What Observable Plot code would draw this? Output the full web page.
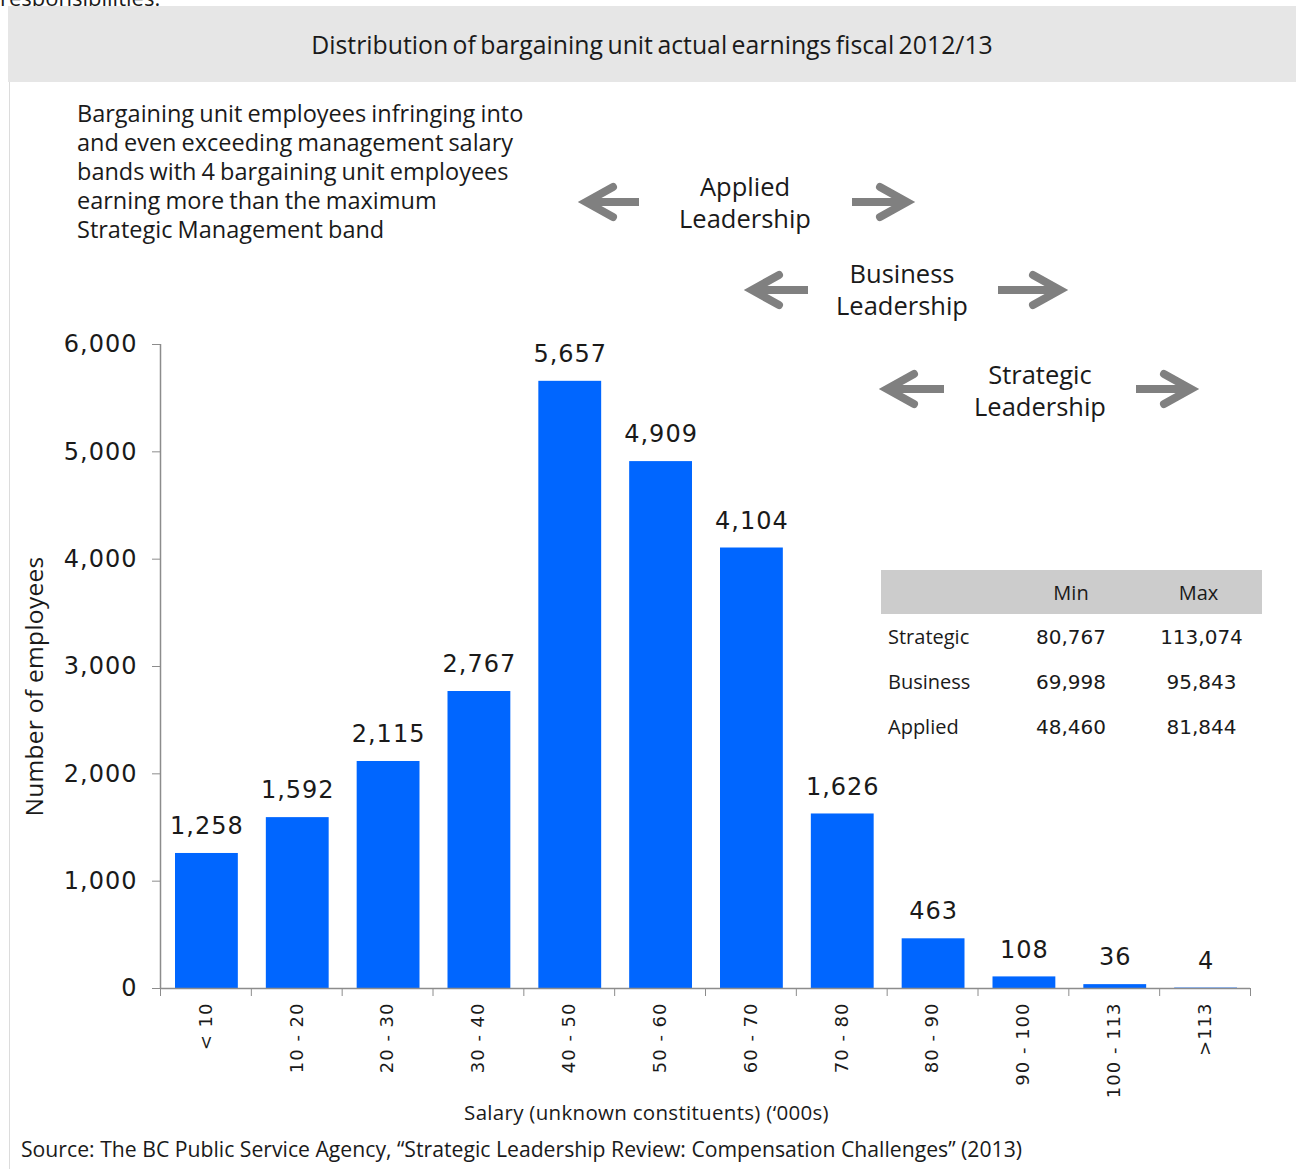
<!DOCTYPE html>
<html>
<head>
<meta charset="utf-8">
<script src="https://cdn.jsdelivr.net/npm/d3@7"></script>
<script src="https://cdn.jsdelivr.net/npm/@observablehq/plot@0.6"></script>
<style>
  html, body { margin: 0; padding: 0; background: #fff; }
  #page { position: relative; width: 1296px; height: 1169px; overflow: hidden; font-family: "Open Sans", sans-serif; color: #1a1a1a; }
  .abs { position: absolute; }
  #cut { top: -18px; left: 0; font-size: 22px; }
  #leftline { left: 9px; top: 6px; width: 1px; height: 1163px; background: #dcdcdc; }
  #header { left: 8px; top: 6px; width: 1288px; height: 76px; background: #e6e6e6; text-align: center; line-height: 76px; font-size: 24.8px; word-spacing: -2px; }
  #chart { left: 0; top: 82px; }
  #note { left: 77px; top: 99px; font-size: 23.5px; line-height: 29px; word-spacing: -1px; }
  .band { text-align: center; font-size: 25.5px; line-height: 32px; width: 200px; }
  #arrows { left: 0; top: 0; }
  #tbl { left: 881px; top: 570px; border-collapse: collapse; font-size: 20px; }
  #tbl th { background: #cccccc; height: 44px; font-weight: normal; padding: 0; }
  #tbl td { height: 45px; padding: 0; }
  #tbl .num { font-family: "DejaVu Sans", sans-serif; font-size: 20px; text-align: center; }
  #source { left: 21px; top: 1134px; font-size: 21.2px; }
</style>
</head>
<body>
<div id="page">
  <div id="cut" class="abs">responsibilities.</div>
  <div id="leftline" class="abs"></div>
  <div id="header" class="abs"></div>
  <div id="chart" class="abs"></div>
  <div id="note" class="abs"></div>
  <svg id="arrows" class="abs" width="1296" height="1169"></svg>
  <table id="tbl" class="abs"></table>
  <div id="source" class="abs"></div>
</div>
<script>
// ---- Data ----
const categories = ["< 10", "10 - 20", "20 - 30", "30 - 40", "40 - 50", "50 - 60", "60 - 70", "70 - 80", "80 - 90", "90 - 100", "100 - 113", ">113"];
const employees = [1258, 1592, 2115, 2767, 5657, 4909, 4104, 1626, 463, 108, 36, 4];
const yTicks = [0, 1000, 2000, 3000, 4000, 5000, 6000];

const titleText = "Distribution of bargaining unit actual earnings fiscal 2012/13";
const yLabel = "Number of employees";
const xLabel = "Salary (unknown constituents) (‘000s)";
const sourceText = "Source: The BC Public Service Agency, “Strategic Leadership Review: Compensation Challenges” (2013)";
const noteLines = ["Bargaining unit employees infringing into", "and even exceeding management salary", "bands with 4 bargaining unit employees", "earning more than the maximum", "Strategic Management band"];

const bandNames = ["Applied", "Business", "Strategic"];
const tableHeader = ["", "Min", "Max"];
const tableRows = ["Strategic", "Business", "Applied"];
const tableMin = [80767, 69998, 48460];
const tableMax = [113074, 95843, 81844];

// ---- Build ----
const fmt = d3.format(",");
const bars = categories.map((c, i) => ({cat: c, i, n: employees[i]}));

document.getElementById("header").textContent = titleText;
document.getElementById("source").textContent = sourceText;
document.getElementById("note").innerHTML = noteLines.join("<br>");

const barColor = "#0066ff";
const axisColor = "#8c8c8c";

const plot = Plot.plot({
  width: 1296,
  height: 1050,
  marginTop: 262,
  marginBottom: 144,
  marginLeft: 160,
  marginRight: 46,
  style: {fontFamily: "DejaVu Sans, sans-serif", color: "#1a1a1a", background: "transparent", overflow: "visible"},
  x: {domain: [0, categories.length]},
  y: {domain: [0, 6000]},
  marks: [
    Plot.rectY(bars, {x1: d => d.i, x2: d => d.i + 1, y: "n", fill: barColor, insetLeft: 15, insetRight: 13}),
    Plot.ruleX([0], {stroke: axisColor, strokeWidth: 1.5}),
    Plot.ruleY([0], {stroke: axisColor, strokeWidth: 1.5}),
    Plot.axisY({ticks: yTicks, tickFormat: fmt, tickSize: 8, tickPadding: 15, fontSize: 24, stroke: axisColor, fill: "#1a1a1a", label: null}),
    Plot.axisX({ticks: d3.range(categories.length + 1), tickFormat: () => "", tickSize: 8, stroke: axisColor, label: null}),
    Plot.text(bars, {x: d => d.i + 0.5, y: 0, text: "cat", rotate: -90, textAnchor: "end", dy: 14, fontSize: 18, fill: "#1a1a1a"}),
    Plot.text(bars, {x: d => d.i + 0.5, y: "n", text: d => fmt(d.n), dy: -27, dx: 1, fontSize: 24, fill: "#1a1a1a"}),
    Plot.text([yLabel], {text: d => d, frameAnchor: "left", textAnchor: "middle", rotate: -90, dx: -125, dy: 20, fontSize: 24.5, fontFamily: "Open Sans", fill: "#1a1a1a"}),
    Plot.text([xLabel], {text: d => d, frameAnchor: "bottom", textAnchor: "middle", dy: 131, dx: -59, fontSize: 20.5, fontFamily: "Open Sans", fill: "#1a1a1a"})
  ]
});
d3.select(plot).style("letter-spacing", "1px");
d3.select(plot).selectAll("text").filter(function() { return d3.select(this).attr("font-family") === "Open Sans" || this.closest("[font-family='Open Sans']"); }).style("letter-spacing", "0.3px");
document.getElementById("chart").appendChild(plot);

// ---- Annotations (layout) ----
const bandLayout = [
  {cx: 745, top: 170, y: 202, left: [580, 639], right: [852, 913]},
  {cx: 902, top: 257, y: 290, left: [746, 808], right: [998, 1066]},
  {cx: 1040, top: 358, y: 389, left: [881, 944], right: [1136, 1197]}
];
const page = document.getElementById("page");
const arrowSvg = d3.select("#arrows");
bandNames.forEach((name, k) => {
  const L = bandLayout[k];
  const div = document.createElement("div");
  div.className = "abs band";
  div.style.left = (L.cx - 100) + "px";
  div.style.top = L.top + "px";
  div.innerHTML = name + "<br>Leadership";
  page.appendChild(div);
  const g = arrowSvg.append("g").attr("fill", "none").attr("stroke", "#808080").attr("stroke-width", 8);
  const [lt, le] = L.left;
  g.append("line").attr("x1", lt + 6).attr("x2", le).attr("y1", L.y).attr("y2", L.y).attr("stroke-linecap", "butt");
  g.append("path").attr("d", `M${lt + 33},${L.y - 15}L${lt + 6},${L.y}L${lt + 33},${L.y + 15}`).attr("stroke-linecap", "round").attr("stroke-linejoin", "miter");
  const [rs, rt] = L.right;
  g.append("line").attr("x1", rs).attr("x2", rt - 6).attr("y1", L.y).attr("y2", L.y).attr("stroke-linecap", "butt");
  g.append("path").attr("d", `M${rt - 33},${L.y - 15}L${rt - 6},${L.y}L${rt - 33},${L.y + 15}`).attr("stroke-linecap", "round").attr("stroke-linejoin", "miter");
});

// ---- Table ----
const tbl = d3.select("#tbl");
const colW = [126, 128, 127];
tbl.append("tr").selectAll("th").data(tableHeader).join("th").style("width", (d, i) => colW[i] + "px").text(d => d);
tableRows.forEach((r, i) => {
  const tr = tbl.append("tr");
  tr.append("td").style("padding-left", "7px").text(r);
  tr.append("td").attr("class", "num").text(fmt(tableMin[i]));
  tr.append("td").attr("class", "num").style("padding-left", "6px").text(fmt(tableMax[i]));
});
</script>
</body>
</html>
